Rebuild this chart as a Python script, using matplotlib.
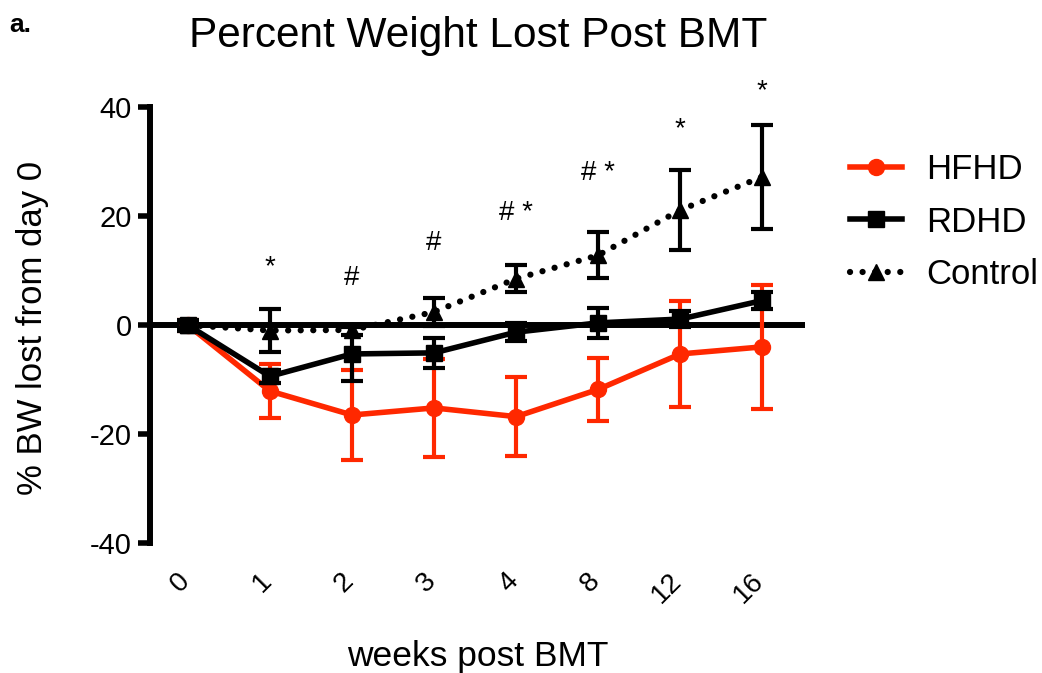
import numpy as np
import matplotlib
matplotlib.use("Agg")
import matplotlib.pyplot as plt
from matplotlib.transforms import ScaledTranslation

plt.rcParams['font.family'] = ['Liberation Sans', 'DejaVu Sans']
plt.rcParams['axes.unicode_minus'] = False

# Data: % body weight change, mean and error per time point
weeks = ['0', '1', '2', '3', '4', '8', '12', '16']
hfhd_mean = [0, -12.1, -16.5, -15.2, -16.8, -11.8, -5.3, -4.0]
hfhd_err = [1.0, 4.9, 8.2, 9.0, 7.2, 5.8, 9.7, 11.4]
rdhd_mean = [0, -9.4, -5.3, -5.1, -1.3, 0.4, 1.1, 4.5]
rdhd_err = [1.0, 1.2, 5.0, 2.8, 1.7, 2.7, 1.5, 1.5]
ctrl_mean = [0, -1.0, -0.9, 2.4, 8.5, 12.8, 21.1, 27.2]
ctrl_err = [0.5, 3.9, 1.0, 2.5, 2.5, 4.2, 7.4, 9.5]

# significance marks above the points (label, x index, baseline y)
sig_labels = ['*', '#', '#', '# *', '# *', '*', '*']
sig_pos = [1, 2, 3, 4, 5, 6, 7]
sig_y = [9.4, 7.3, 13.8, 19.3, 26.6, 34.7, 41.7]

RED = '#ff2800'
x = np.arange(len(weeks))

fig = plt.figure(figsize=(10.42, 6.73), dpi=100)
ax = fig.add_axes([0.144, 0.193, 0.6286, 0.648])

ax.axhline(0, color='black', lw=4.3, zorder=1)

# HFHD
ax.errorbar(x, hfhd_mean, yerr=hfhd_err, fmt='none', ecolor=RED,
            elinewidth=3, capsize=8, capthick=3, zorder=2)
h1, = ax.plot(x, hfhd_mean, color=RED, lw=4, marker='o', ms=11.5,
              zorder=2.5, label='HFHD')

# RDHD
ax.errorbar(x, rdhd_mean, yerr=rdhd_err, fmt='none', ecolor='black',
            elinewidth=3, capsize=8, capthick=3, zorder=3)
h2, = ax.plot(x, rdhd_mean, color='black', lw=4, marker='s', ms=11,
              zorder=3.5, label='RDHD')

# Control
ax.errorbar(x, ctrl_mean, yerr=ctrl_err, fmt='none', ecolor='black',
            elinewidth=3, capsize=8, capthick=3, zorder=4)
h3, = ax.plot(x, ctrl_mean, color='black', lw=4.5, linestyle=(0, (0.01, 2.0)),
              dash_capstyle='round', marker='^', ms=11, zorder=4.5,
              label='Control')

for lab, xi, yi in zip(sig_labels, sig_pos, sig_y):
    ax.text(xi, yi, lab, ha='center', va='baseline', fontsize=20)

ax.set_xlim(-0.46, 7.52)
ax.set_ylim(-40, 40)
ax.set_yticks([-40, -20, 0, 20, 40])
ax.tick_params(axis='y', length=9, width=4, labelsize=21, pad=4)

ax.set_xticks(x)
ax.set_xticklabels(weeks, rotation=45, ha='right', fontsize=20)
ax.tick_params(axis='x', length=0, pad=18)
offset = ScaledTranslation(0.07, 0, fig.dpi_scale_trans)
for lbl in ax.get_xticklabels():
    lbl.set_transform(lbl.get_transform() + offset)

for side in ['top', 'right', 'bottom']:
    ax.spines[side].set_visible(False)
ax.spines['left'].set_linewidth(4.3)

fig.text(0.4585, 0.946, 'Percent Weight Lost Post BMT', ha='center',
         va='center', fontsize=30.5)
fig.text(0.4585, 0.025, 'weeks post BMT', ha='center', va='center',
         fontsize=25.5)
fig.text(0.031, 0.5126, '% BW lost from day 0', rotation=90, ha='center',
         va='center', fontsize=25)
fig.text(0.009, 0.953, 'a.', fontsize=19, fontweight='bold', va='baseline')

fig.legend([h1, h2, h3], ['HFHD', 'RDHD', 'Control'], loc='center left',
           bbox_to_anchor=(0.8157, 0.670), frameon=False, fontsize=25,
           handlelength=1.5, handletextpad=0.7, labelspacing=0.55,
           borderpad=0, borderaxespad=0)

fig.savefig('out.png', dpi=100)
